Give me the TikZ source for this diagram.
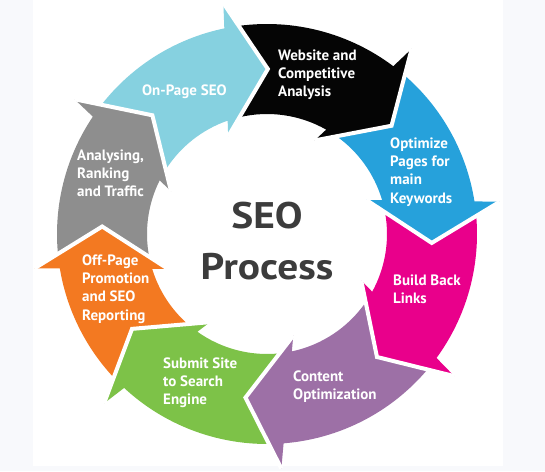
\documentclass[tikz,border=0pt]{standalone}
\usepackage{fontspec}
\setmainfont{PT Sans}
\newfontfamily\titlefont[FakeStretch=1.12]{PT Sans}
\usepackage{xcolor}
\usetikzlibrary{calc,positioning}
\definecolor{lbcol}{HTML}{86D1E0}
\definecolor{blkcol}{HTML}{050505}
\definecolor{bluecol}{HTML}{26A1DB}
\definecolor{pinkcol}{HTML}{E9008B}
\definecolor{purplecol}{HTML}{9D70A6}
\definecolor{greencol}{HTML}{7DC248}
\definecolor{orangecol}{HTML}{F37921}
\definecolor{greycol}{HTML}{8E8E8E}
\definecolor{titlecol}{HTML}{3C3C3C}
\definecolor{seobg}{HTML}{F8F9FC}
\tikzset{
  seogap/.style={draw=white, line width=4pt, line join=miter},
  seolabel/.style={text=white, align=left, anchor=north west, inner sep=0pt,
    font=\bfseries\fontsize{15}{18.4}\selectfont},
}
% arrow of the cycle: colour, tail angle, tip angle
\newcommand{\seoarrow}[3]{%
  \fill[#1] ({#2+8.02}:210) arc[start angle={#2+8.02}, end angle={#3+12.03}, radius=210]
    -- ({#3+11}:235) -- (#3:165) -- ({#3+22}:105) -- ({#3+19.44}:120)
    arc[start angle={#3+19.44}, end angle={#2+13.54}, radius=120] -- (#2:165) -- cycle;}

\begin{document}
\begin{tikzpicture}[x=1pt,y=1pt]
       \useasboundingbox (-267,-237) rectangle (278,234);
       \fill[seobg] (-267,-237) rectangle (278,234);
       \fill[white] (-234,-232) rectangle (236,234);
       \seoarrow{lbcol}{134}{89.7}
       \seoarrow{blkcol}{89.7}{41}
       \seoarrow{bluecol}{41}{-3.1}
       \seoarrow{pinkcol}{-3.1}{-48.2}
       \seoarrow{purplecol}{-48.2}{-97.5}
       \seoarrow{greencol}{-97.5}{-144.9}
       \seoarrow{orangecol}{-144.9}{-182.6}
       \seoarrow{greycol}{177.4}{134}
       \foreach \t in {89.7,41,-3.1,-48.2,-97.5,-144.9,-182.6,134}
         \draw[seogap] ({\t+11}:235) -- (\t:165) -- ({\t+22}:105);
         \node[seolabel] (onpage) at (-125,149.8) {On-Page SEO};
         \node[seolabel] (website) at (11,184.8) {Website and\\Competitive\\Analysis};
         \node[seolabel] (optimize) at (123,96.8) {Optimize\\Pages for\\main\\Keywords};
         \node[seolabel] (backlinks) at (126,-40.2) {Build Back\\Links};
         \node[seolabel] (content) at (26,-136.2) {Content\\Optimization};
         \node[seolabel] (submit) at (-104,-123.2) {Submit Site\\to Search\\Engine};
         \node[seolabel] (offpage) at (-185,-20.2) {Off-Page\\Promotion\\and SEO\\Reporting};
         \node[seolabel] (analysing) at (-190,84.8) {Analysing,\\Ranking\\and Traffic};
         \node[text=titlecol, align=center, inner sep=0pt,
           font=\titlefont\bfseries\fontsize{37}{51}\selectfont] (title) at (0,-7.5) {SEO\\Process};
     \end{tikzpicture}
\end{document}
